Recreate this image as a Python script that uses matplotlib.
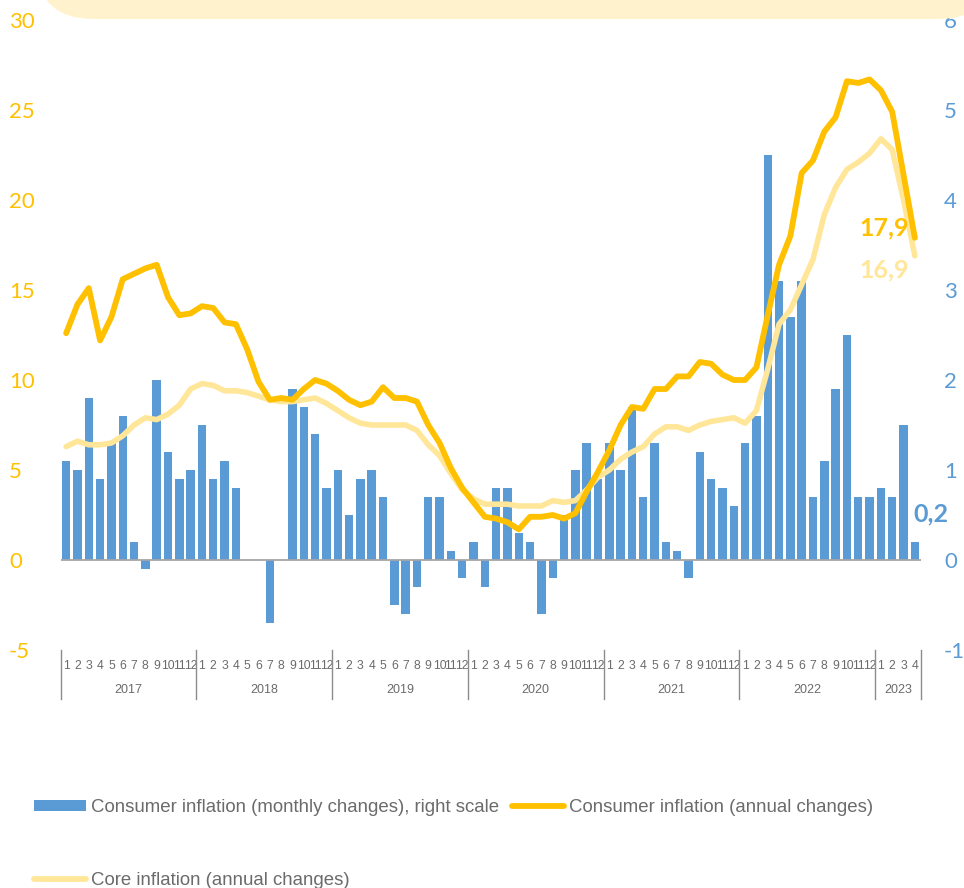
import matplotlib
matplotlib.use("Agg")
import matplotlib.pyplot as plt
import matplotlib.transforms as mtransforms
from matplotlib.patches import FancyBboxPatch, Patch
from matplotlib.lines import Line2D
import numpy as np

# ---------------- data ----------------
years = ["2017", "2018", "2019", "2020", "2021", "2022", "2023"]
months_per_year = [12, 12, 12, 12, 12, 12, 4]

monthly_cpi = [
    1.1, 1.0, 1.8, 0.9, 1.3, 1.6, 0.2, -0.1, 2.0, 1.2, 0.9, 1.0,      # 2017
    1.5, 0.9, 1.1, 0.8, 0.0, 0.0, -0.7, 0.0, 1.9, 1.7, 1.4, 0.8,      # 2018
    1.0, 0.5, 0.9, 1.0, 0.7, -0.5, -0.6, -0.3, 0.7, 0.7, 0.1, -0.2,   # 2019
    0.2, -0.3, 0.8, 0.8, 0.3, 0.2, -0.6, -0.2, 0.5, 1.0, 1.3, 0.9,    # 2020
    1.3, 1.0, 1.7, 0.7, 1.3, 0.2, 0.1, -0.2, 1.2, 0.9, 0.8, 0.6,      # 2021
    1.3, 1.6, 4.5, 3.1, 2.7, 3.1, 0.7, 1.1, 1.9, 2.5, 0.7, 0.7,       # 2022
    0.8, 0.7, 1.5, 0.2,                                               # 2023
]

annual_cpi = [
    12.6, 14.2, 15.1, 12.2, 13.5, 15.6, 15.9, 16.2, 16.4, 14.6, 13.6, 13.7,
    14.1, 14.0, 13.2, 13.1, 11.7, 9.9, 8.9, 9.0, 8.9, 9.5, 10.0, 9.8,
    9.4, 8.9, 8.6, 8.8, 9.6, 9.0, 9.0, 8.8, 7.5, 6.5, 5.1, 4.0,
    3.2, 2.4, 2.3, 2.1, 1.7, 2.4, 2.4, 2.5, 2.3, 2.6, 3.8, 4.9,
    6.1, 7.5, 8.5, 8.4, 9.5, 9.5, 10.2, 10.2, 11.0, 10.9, 10.3, 10.0,
    10.0, 10.7, 13.6, 16.4, 18.0, 21.5, 22.2, 23.8, 24.6, 26.6, 26.5, 26.7,
    26.1, 24.9, 21.4, 17.9,
]

core_infl = [
    6.3, 6.6, 6.4, 6.4, 6.5, 6.9, 7.5, 7.9, 7.8, 8.1, 8.6, 9.5,
    9.8, 9.7, 9.4, 9.4, 9.3, 9.1, 8.9, 8.8, 8.8, 8.9, 9.0, 8.7,
    8.3, 7.9, 7.6, 7.5, 7.5, 7.5, 7.5, 7.2, 6.4, 5.8, 4.8, 3.9,
    3.4, 3.1, 3.1, 3.1, 3.0, 3.0, 3.0, 3.3, 3.2, 3.3, 3.9, 4.6,
    5.0, 5.6, 6.0, 6.3, 7.0, 7.4, 7.4, 7.2, 7.5, 7.7, 7.8, 7.9,
    7.6, 8.3, 10.6, 13.1, 13.9, 15.3, 16.7, 19.2, 20.7, 21.7, 22.1, 22.6,
    23.4, 22.8, 20.0, 16.9,
]

left_ticks = [-5, 0, 5, 10, 15, 20, 25, 30]
right_ticks = [-1, 0, 1, 2, 3, 4, 5, 6]

label_monthly = "Consumer inflation (monthly changes), right scale"
label_annual = "Consumer inflation (annual changes)"
label_core = "Core inflation (annual changes)"

# ---------------- style ----------------
BLUE = "#5B9BD5"
ORANGE = "#FFC000"
LIGHT = "#FFE699"
GRAY_TXT = "#6B6B6B"
GRAY_LINE = "#A6A6A6"

W, H = 964, 888
DPI = 100
fig = plt.figure(figsize=(W / DPI, H / DPI), dpi=DPI)

# background rounded band at the top
band = FancyBboxPatch((36, H - 19), 960, 120,
                      boxstyle="round,pad=0,rounding_size=58",
                      transform=mtransforms.IdentityTransform(),
                      facecolor="#FFF2CC", edgecolor="none", zorder=0)
fig.patches.append(band)

ax_l, ax_r = 60.5, 920.5
ax_t, ax_b = 20, 650
ax = fig.add_axes([ax_l / W, (H - ax_b) / H, (ax_r - ax_l) / W, (ax_b - ax_t) / H])
ax2 = ax.twinx()
ax.set_zorder(ax2.get_zorder() + 1)
ax.patch.set_visible(False)

n = len(monthly_cpi)
x = np.arange(n)

# month labels
month_labels = []
for cnt in months_per_year:
    month_labels += [str(m) for m in range(1, cnt + 1)]

# bars on right scale
ax2.bar(x, monthly_cpi, width=0.74, color=BLUE, edgecolor="none", zorder=2)
ax2.set_ylim(-1, 6)
ax2.set_yticks(right_ticks)
ax2.set_yticklabels([str(t) for t in right_ticks])

# lines on left scale
ax.plot(x, core_infl, color=LIGHT, lw=4.0, solid_capstyle="round",
        solid_joinstyle="round", zorder=3)
ax.plot(x, annual_cpi, color=ORANGE, lw=4.2, solid_capstyle="round",
        solid_joinstyle="round", zorder=4)
ax.set_ylim(-5, 30)
ax.set_yticks(left_ticks)
ax.set_yticklabels([str(t) for t in left_ticks])
ax.set_xlim(-0.5, n - 0.5)
ax2.set_xlim(-0.5, n - 0.5)

# zero line
ax.axhline(0, color=GRAY_LINE, lw=1.3, zorder=1)

for a in (ax, ax2):
    for s in a.spines.values():
        s.set_visible(False)

# y tick labels
px2pt = 72.0 / DPI
ax.tick_params(axis="y", length=0, labelsize=16, labelcolor=ORANGE,
               pad=(ax_l - 9) * px2pt)
for t in ax.get_yticklabels():
    t.set_ha("left")
    t.set_fontfamily("Lato")
ax2.tick_params(axis="y", length=0, labelsize=16, labelcolor=BLUE,
                pad=(944 - ax_r) * px2pt)
for t in ax2.get_yticklabels():
    t.set_fontfamily("Lato")

# x tick labels (months)
ax.set_xticks(x)
ax.set_xticklabels(month_labels)
ax.tick_params(axis="x", length=0, labelsize=8.8, labelcolor=GRAY_TXT, pad=7)
for t in ax.get_xticklabels():
    t.set_fontfamily("Liberation Sans")
ax2.tick_params(axis="x", length=0, labelbottom=False)

# year labels and separators
trans = mtransforms.blended_transform_factory(ax.transData, ax.transAxes)
axes_h = ax_b - ax_t
start = 0
bounds = [-0.5]
for yr, cnt in zip(years, months_per_year):
    center = start + (cnt - 1) / 2.0
    ax.text(center, -(690 - ax_b) / axes_h, yr, transform=trans, ha="center",
            va="center", fontsize=9, color=GRAY_TXT, family="Liberation Sans")
    start += cnt
    bounds.append(start - 0.5)
for b in bounds:
    ax.add_line(Line2D([b, b], [0, -(699 - ax_b) / axes_h], transform=trans,
                       color="#8C8C8C", lw=1.0, clip_on=False))

# end-of-series labels
def fmt(v):
    return f"{v:.1f}".replace(".", ",")

ax.annotate(fmt(annual_cpi[-1]), xy=(x[-1], annual_cpi[-1]), xytext=(-4, 7),
            textcoords="offset points", ha="right", va="center",
            fontsize=18, fontweight="bold", color=ORANGE, family="Lato", zorder=6)
ax.annotate(fmt(core_infl[-1]), xy=(x[-1], core_infl[-1]), xytext=(-4, -10),
            textcoords="offset points", ha="right", va="center",
            fontsize=18, fontweight="bold", color=LIGHT, family="Lato", zorder=6)
ax2.annotate(fmt(monthly_cpi[-1]), xy=(x[-1], monthly_cpi[-1]), xytext=(-1, 20),
             textcoords="offset points", ha="left", va="center",
             fontsize=18, fontweight="bold", color=BLUE, family="Lato",
             annotation_clip=False)

# legend
handles = [
    Patch(facecolor=BLUE, edgecolor="none"),
    Line2D([], [], color=LIGHT, lw=4.2, solid_capstyle="round"),
    Line2D([], [], color=ORANGE, lw=4.2, solid_capstyle="round"),
]
labels = [label_monthly, label_core, label_annual]
fs = 13.4
fs_px = fs / px2pt
leg = fig.legend(handles, labels, ncol=2, frameon=False,
                 loc="upper left",
                 bbox_to_anchor=(34 / W, (H - 799) / H),
                 prop={"family": "Liberation Sans", "size": fs},
                 handlelength=52 / fs_px, handleheight=0.55,
                 handletextpad=5 / fs_px, columnspacing=13 / fs_px,
                 labelspacing=3.02, borderpad=0, borderaxespad=0)
for t in leg.get_texts():
    t.set_color(GRAY_TXT)

fig.savefig("out.png", dpi=DPI)
